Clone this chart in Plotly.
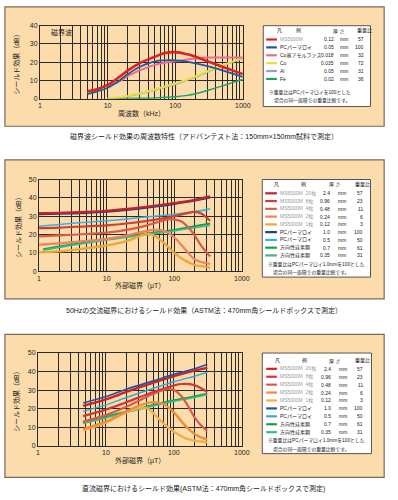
import plotly.graph_objects as go

W, H = 398, 500
FONT = "Liberation Sans, Noto Sans CJK JP, sans-serif"

# ---------------- Panel 1 data (frequency, kHz) ----------------
p1_names = ["MS5000M", "PCパーマロイ", "Co基アモルファス", "Cu", "Al", "Fe"]
p1_thick = ["0.12", "0.05", "0.018", "0.035", "0.05", "0.02"]
p1_ratio = ["57", "100", "32", "72", "31", "36"]
p1_colors = ["#E0201E", "#1E5AA0", "#EC6A96", "#E6E040", "#8FA6B8", "#1FA064"]
p1_widths = [2.6, 1.8, 2.0, 2.0, 1.5, 1.5]
p1_name_gray = [True, False, False, False, False, False]

ms_x = [5, 7, 10, 15, 20, 30, 50, 70, 100, 150, 200, 300, 500, 700, 1000]
ms_y = [4, 5.2, 7.5, 12, 15.5, 19.5, 23, 25, 25.5, 24.3, 23, 20.5, 17.5, 15.5, 13.5]
pc_x = [5, 7, 10, 15, 20, 30, 50, 70, 100, 150, 200, 300, 500, 700, 1000]
pc_y = [2.5, 4, 6, 10, 13.5, 17.5, 20.5, 21, 21, 20.3, 19.3, 17.8, 15.5, 13.7, 12]
co_x = [10, 15, 20, 30, 50, 70, 100, 150, 200, 300, 500, 700, 1000]
co_y = [6.5, 9.5, 12.5, 15.5, 18.5, 19.7, 20.5, 21.5, 22, 22.5, 22.5, 22.5, 22.5]
cu_x = [10, 20, 30, 50, 70, 100, 200, 300, 500, 700, 1000]
cu_y = [0.2, 1.5, 3, 5, 6.7, 8.3, 12.3, 15, 18.3, 20.3, 22.3]
al_x = [10, 20, 30, 50, 70, 100, 200, 300, 500, 700, 1000]
al_y = [0.1, 1.2, 2.6, 4.6, 6.2, 7.8, 11.8, 14.5, 18, 20, 22]
fe_x = [10, 30, 50, 100, 150, 200, 300, 500, 700, 1000]
fe_y = [0, 0.2, 0.4, 1, 1.8, 2.7, 4.5, 7, 8.8, 10.5]
p1_series_x = [ms_x, pc_x, co_x, cu_x, al_x, fe_x]
p1_series_y = [ms_y, pc_y, co_y, cu_y, al_y, fe_y]

# ---------------- Panel 2 data (50Hz AC field, uT) ----------------
p2_names = ["MS5000M  20枚", "MS5000M  8枚", "MS5000M  4枚", "MS5000M  2枚", "MS5000M  1枚",
            "PCパーマロイ", "PCパーマロイ", "方向性珪素鋼", "方向性珪素鋼"]
p2_thick = ["2.4", "0.96", "0.48", "0.24", "0.12", "1.0", "0.5", "0.7", "0.35"]
p2_ratio = ["57", "23", "11", "6", "3", "100", "50", "61", "31"]
p2_colors = ["#C0222C", "#CC4230", "#D85C4A", "#E8845E", "#F2A632", "#1B3F8A", "#38B0E0", "#1E9A50", "#3CBB8C"]
p2_widths = [2.4, 2.2, 2.2, 2.2, 2.4, 2.4, 1.6, 2.0, 1.6]
p2_name_gray = [True, True, True, True, True, False, False, False, False]

a20_x = [1, 2, 5, 10, 20, 50, 100, 200, 340]
a20_y = [31.6, 31.8, 32.3, 32.9, 33.9, 35.6, 37.1, 38.9, 40.8]
a8_x = [1, 2, 5, 10, 20, 50, 100, 150, 200, 250, 340]
a8_y = [23.5, 23.8, 24.5, 25, 26, 28, 30, 31.5, 32.3, 31.5, 27.5]
a4_x = [1, 2, 5, 10, 20, 40, 60, 80, 100, 130, 170, 200, 250, 340]
a4_y = [19, 19.5, 20.3, 21, 22.5, 25, 27, 28.3, 28.3, 27, 23, 19.5, 14, 8]
a2_x = [1, 2, 5, 10, 20, 30, 50, 70, 100, 130, 170, 200, 250, 340]
a2_y = [14.5, 15.2, 16.5, 17.5, 19.5, 21, 22.5, 22, 18.5, 14, 9, 6.5, 5, 4]
a1_x = [1, 2, 5, 10, 20, 30, 40, 50, 70, 100, 150, 200, 340]
a1_y = [10.3, 10.8, 12.5, 14, 16.5, 19, 20.3, 19.5, 15.5, 10, 5.5, 3.5, 2]
apc10_x = [1, 2, 5, 10, 20, 50, 100, 200, 340]
apc10_y = [31.2, 31.4, 31.9, 32.5, 33.5, 35.2, 36.8, 38.6, 40.3]
apc05_x = [1, 2, 5, 10, 20, 50, 100, 200, 340]
apc05_y = [24.5, 25.5, 26.7, 27.5, 28.5, 30, 31, 32.5, 34]
ags07_x = [1.15, 2, 5, 10, 20, 50, 100, 200, 340]
ags07_y = [12, 13.5, 15.8, 17.5, 19, 21, 22.5, 24.5, 26]
ags035_x = [1.15, 2, 5, 10, 20, 50, 100, 200, 340]
ags035_y = [11.5, 13, 15.3, 17, 18.5, 20.5, 22, 23.7, 25]
p2_series_x = [a20_x, a8_x, a4_x, a2_x, a1_x, apc10_x, apc05_x, ags07_x, ags035_x]
p2_series_y = [a20_y, a8_y, a4_y, a2_y, a1_y, apc10_y, apc05_y, ags07_y, ags035_y]
p2_draw_order = [5, 6, 7, 8, 4, 3, 2, 1, 0]

# ---------------- Panel 3 data (DC field, uT) ----------------
p3_names = p2_names
p3_thick = p2_thick
p3_ratio = p2_ratio
p3_colors = ["#D42020", "#D03A30", "#DA5A48", "#EE9032", "#F4AE48", "#1F55A8", "#30A8D8", "#1E9A50", "#3CBB8C"]
p3_widths = [2.4, 2.2, 2.2, 2.4, 2.4, 1.6, 1.4, 2.0, 1.6]
p3_name_gray = p2_name_gray

d20_x = [4.6, 10, 20, 50, 100, 200, 310]
d20_y = [21.5, 25, 29, 34, 37.5, 40.5, 42]
d8_x = [4.6, 10, 20, 50, 100, 130, 200, 310]
d8_y = [16, 19.5, 23.5, 29, 32.5, 33.3, 32.7, 29]
d4_x = [4.6, 10, 20, 50, 80, 100, 130, 170, 200, 250, 310]
d4_y = [13, 16.5, 21, 28, 30.5, 30, 26.5, 20, 15.5, 11, 8]
d2_x = [4.6, 10, 20, 30, 50, 70, 100, 130, 170, 200, 250, 310]
d2_y = [9, 13, 18.5, 21.5, 23.5, 22.5, 18, 13, 8.5, 6.5, 4.5, 3.5]
d1_x = [4.6, 10, 20, 30, 40, 50, 70, 100, 150, 200, 310]
d1_y = [8.3, 12.5, 18, 20.3, 20.3, 17.5, 12, 7.5, 4, 2.8, 1.8]
dpc10_x = [4.6, 10, 20, 50, 100, 200, 310]
dpc10_y = [23, 26.5, 30.5, 35, 38.5, 41.5, 44]
dpc05_x = [4.6, 10, 20, 50, 100, 200, 310]
dpc05_y = [18.5, 22, 26, 31, 34.5, 37.5, 39.5]
dgs07_x = [4.6, 10, 20, 50, 100, 200, 310]
dgs07_y = [12.5, 15.5, 18.5, 22, 24.5, 26.5, 28]
dgs035_x = [4.6, 10, 20, 50, 100, 200, 310]
dgs035_y = [12, 15, 18, 21.5, 24, 26, 27.5]
p3_series_x = [d20_x, d8_x, d4_x, d2_x, d1_x, dpc10_x, dpc05_x, dgs07_x, dgs035_x]
p3_series_y = [d20_y, d8_y, d4_y, d2_y, d1_y, dpc10_y, dpc05_y, dgs07_y, dgs035_y]
p3_draw_order = [6, 7, 8, 4, 3, 2, 1, 0, 5]

# ---------------- Tick labels / texts ----------------
grid_vals = [m * 10 ** e for e in range(3) for m in range(1, 10)] + [1000]
grid_text = [str(v) if v in (1, 10, 100, 1000) else "" for v in grid_vals]

note1 = ["※重量比はPCパーマロイを100とした", "場合の同一面積での重量比較です。"]
note2 = ["※重量比はPCパーマロイ1.0mmを100とした", "場合の同一面積での重量比較です。"]
captions = ["磁界波シールド効果の周波数特性（アドバンテスト法：150mm×150mm試料で測定）",
            "50Hzの交流磁界におけるシールド効果（ASTM法：470mm角シールドボックスで測定）",
            "直流磁界におけるシールド効果(ASTM法：470mm角シールドボックスで測定)"]
xtitles = ["周波数（kHz）", "外部磁界（μT）", "外部磁界（μT）"]
ytitle = "シールド効果（dB）"


def X(px):
    return px / W


def Y(py):
    return 1 - py / H


panels = [
    dict(box=(3, 3, 392, 124), plot=(39, 22, 247, 96), ymax=40, leg=(268, 22, 378, 104),
         head_y=27, rows=[36, 44, 52, 60, 68, 76], notes_y=[90, 98], note_x=[272, 277],
         cap_y=134, xt_y=111, yt_x=15, names=p1_names, thick=p1_thick, ratio=p1_ratio,
         colors=p1_colors, widths=p1_widths, gray=p1_name_gray, sx=p1_series_x, sy=p1_series_y,
         order=[5, 4, 3, 2, 1, 0], notes=note1, cols=(271, 282, 283, 343, 345, 373),
         head_x=(280, 300, 337, 362)),
    dict(box=(3, 158, 392, 299), plot=(38, 178, 246, 271), ymax=50, leg=(267, 178, 378, 277),
         head_y=183, rows=[192 + 7.875 * i for i in range(9)], notes_y=[264, 272], note_x=[271, 276],
         cap_y=311, xt_y=285, yt_x=17, names=p2_names, thick=p2_thick, ratio=p2_ratio,
         colors=p2_colors, widths=p2_widths, gray=p2_name_gray, sx=p2_series_x, sy=p2_series_y,
         order=p2_draw_order, notes=note2, cols=(270, 282, 283, 339, 343, 372),
         head_x=(277, 305, 333, 360)),
    dict(box=(3, 335, 392, 480), plot=(37, 354, 246, 448), ymax=50, leg=(267, 354, 379, 456),
         head_y=362, rows=[370 + 8.03 * i for i in range(9)], notes_y=[443, 452], note_x=[271, 276],
         cap_y=491, xt_y=463, yt_x=15, names=p3_names, thick=p3_thick, ratio=p3_ratio,
         colors=p3_colors, widths=p3_widths, gray=p3_name_gray, sx=p3_series_x, sy=p3_series_y,
         order=p3_draw_order, notes=note2, cols=(271, 282, 283, 340, 344, 372),
         head_x=(278, 306, 333, 360)),
]

fig = go.Figure()
shapes = []
annots = []
layout_axes = {}

for i, p in enumerate(panels):
    k = "" if i == 0 else str(i + 1)
    xa, ya = "x" + k, "y" + k
    x0, y0, x1, y1 = p["plot"]
    for j in p["order"]:
        fig.add_trace(go.Scatter(x=p["sx"][j], y=p["sy"][j], mode="lines", xaxis=xa, yaxis=ya,
                                 line=dict(color=p["colors"][j], width=p["widths"][j], shape="spline",
                                           smoothing=1.0),
                                 showlegend=False, hoverinfo="skip"))
    layout_axes["xaxis" + k] = dict(
        type="log", range=[0, 3], domain=[X(x0), X(x1)], anchor=ya,
        tickmode="array", tickvals=grid_vals, ticktext=grid_text,
        showgrid=True, gridcolor="#2a2a2a", gridwidth=1.1, zeroline=False,
        showline=True, linecolor="#2a2a2a", linewidth=1, mirror=True, ticks="",
        tickfont=dict(family=FONT, size=7, color="#222"))
    layout_axes["yaxis" + k] = dict(
        range=[0, p["ymax"]], domain=[Y(y1), Y(y0)], anchor=xa, dtick=10,
        showgrid=True, gridcolor="#2a2a2a", gridwidth=1.1, zeroline=False,
        showline=True, linecolor="#2a2a2a", linewidth=1, mirror=True, ticks="",
        tickfont=dict(family=FONT, size=7, color="#222"))
    bx0, by0, bx1, by1 = p["box"]
    shapes.append(dict(type="rect", xref="paper", yref="paper", x0=X(bx0), x1=X(bx1), y0=Y(by1), y1=Y(by0),
                       fillcolor="#FDDCAC", line=dict(color="#7a6a5a", width=1.2), layer="below"))
    lx0, ly0, lx1, ly1 = p["leg"]
    shapes.append(dict(type="rect", xref="paper", yref="paper", x0=X(lx0), x1=X(lx1), y0=Y(ly1), y1=Y(ly0),
                       fillcolor="white", line=dict(color="#555", width=1), layer="below"))
    c_l0, c_l1, c_name, c_th, c_mm, c_rat = p["cols"]
    fs = 5
    for r, yy in enumerate(p["rows"]):
        shapes.append(dict(type="line", xref="paper", yref="paper", x0=X(c_l0), x1=X(c_l1), y0=Y(yy), y1=Y(yy),
                           line=dict(color=p["colors"][r], width=2.2)))
        annots.append(dict(x=X(c_name), y=Y(yy), xref="paper", yref="paper", text=p["names"][r],
                           showarrow=False, xanchor="left", yanchor="middle",
                           font=dict(family=FONT, size=fs, color="#9a9a9a" if p["gray"][r] else "#222")))
        annots.append(dict(x=X(c_th), y=Y(yy), xref="paper", yref="paper", text=p["thick"][r],
                           showarrow=False, xanchor="right", yanchor="middle",
                           font=dict(family=FONT, size=fs, color="#222")))
        annots.append(dict(x=X(c_mm), y=Y(yy), xref="paper", yref="paper", text="mm",
                           showarrow=False, xanchor="left", yanchor="middle",
                           font=dict(family=FONT, size=fs, color="#222")))
        annots.append(dict(x=X(c_rat), y=Y(yy), xref="paper", yref="paper", text=p["ratio"][r],
                           showarrow=False, xanchor="right", yanchor="middle",
                           font=dict(family=FONT, size=fs, color="#222")))
    hx = p["head_x"]
    for txt, xx in zip(["凡", "例", "厚 さ", "重量比"], hx):
        annots.append(dict(x=X(xx), y=Y(p["head_y"]), xref="paper", yref="paper", text=txt,
                           showarrow=False, xanchor="left", yanchor="middle",
                           font=dict(family=FONT, size=fs, color="#222")))
    for txt, xx, yy in zip(p["notes"], p["note_x"], p["notes_y"]):
        annots.append(dict(x=X(xx), y=Y(yy), xref="paper", yref="paper", text=txt,
                           showarrow=False, xanchor="left", yanchor="middle",
                           font=dict(family=FONT, size=4.8, color="#222")))
    annots.append(dict(x=X((x0 + x1) / 2), y=Y(p["xt_y"]), xref="paper", yref="paper", text=xtitles[i],
                       showarrow=False, xanchor="center", yanchor="middle",
                       font=dict(family=FONT, size=7, color="#222")))
    annots.append(dict(x=X(p["yt_x"]), y=Y((y0 + y1) / 2), xref="paper", yref="paper", text=ytitle,
                       showarrow=False, xanchor="center", yanchor="middle", textangle=-90,
                       font=dict(family=FONT, size=7, color="#222")))
    annots.append(dict(x=X(207), y=Y(p["cap_y"]), xref="paper", yref="paper", text=captions[i],
                       showarrow=False, xanchor="center", yanchor="middle",
                       font=dict(family=FONT, size=7, color="#222")))

annots.append(dict(x=X(48), y=Y(29), xref="paper", yref="paper", text="磁界波",
                   showarrow=False, xanchor="left", yanchor="middle",
                   font=dict(family=FONT, size=7, color="#222")))

fig.update_layout(
    width=W, height=H, margin=dict(l=0, r=0, t=0, b=0),
    paper_bgcolor="white", plot_bgcolor="white",
    shapes=shapes, annotations=annots, showlegend=False,
    **layout_axes)

fig.write_html("out.html")
